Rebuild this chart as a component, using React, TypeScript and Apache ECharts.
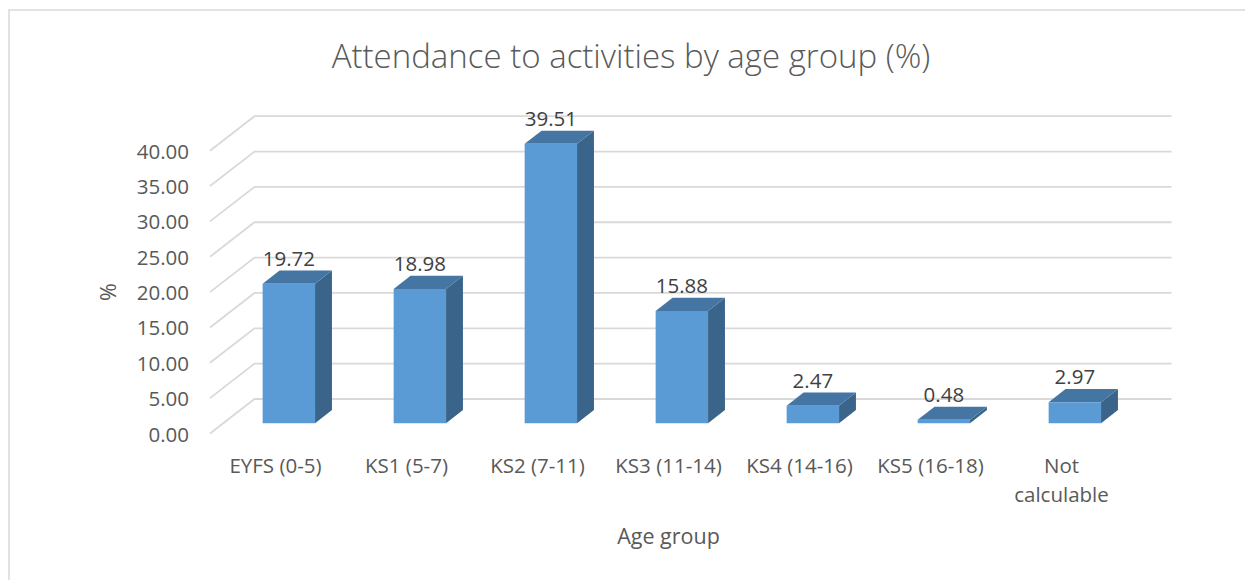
import React, { useEffect, useRef } from "react";
import * as echarts from "echarts";

const categories = [
  "EYFS (0-5)",
  "KS1 (5-7)",
  "KS2 (7-11)",
  "KS3 (11-14)",
  "KS4 (14-16)",
  "KS5 (16-18)",
  "Not\ncalculable",
];
const values = [19.72, 18.98, 39.51, 15.88, 2.47, 0.48, 2.97];
const yTicks = [0, 5, 10, 15, 20, 25, 30, 35, 40];
const titleText = "Attendance to activities by age group (%)";
const xName = "Age group";
const yName = "%";

const DEPTH_X = 44.5;
const DEPTH_Y = -34.5;
const BAR_FRONT = 0.3;
const BAR_BACK = 0.68;
const FONT = "'Open Sans', 'Noto Sans', sans-serif";
const TEXT = "#595959";
const GRID = "#D9D9D9";
const C_FRONT = "#5B9BD5";
const C_TOP = "#4575A2";
const C_SIDE = "#3A6489";

export default function App() {
  const ref = useRef<HTMLDivElement>(null);
  useEffect(() => {
    if (!ref.current) return;
    const chart = echarts.init(ref.current, undefined, { renderer: "svg" });
    const option: any = {
      animation: false,
      backgroundColor: "#ffffff",
      textStyle: { fontFamily: FONT },
      grid: { left: 210, right: 118, top: 150.7, bottom: 146.5 },
      xAxis: {
        type: "category",
        data: categories,
        boundaryGap: true,
        axisLine: { show: false },
        axisTick: { show: false },
        splitLine: { show: false },
        axisLabel: {
          color: TEXT,
          fontSize: 20.5,
          fontFamily: FONT,
          margin: 17,
          lineHeight: 29,
          interval: 0,
        },
        name: xName,
        nameLocation: "middle",
        nameGap: 91,
        nameTextStyle: { color: TEXT, fontSize: 21.5, fontFamily: FONT },
      },
      yAxis: {
        type: "value",
        min: 0,
        max: 40,
        interval: 5,
        axisLine: { show: false },
        axisTick: { show: false },
        splitLine: { show: false },
        axisLabel: {
          color: TEXT,
          fontSize: 20.5,
          fontFamily: FONT,
          margin: 21,
          formatter: (v: number) => v.toFixed(2),
        },
        name: yName,
        nameLocation: "middle",
        nameGap: 92,
        nameRotate: 90,
        nameTextStyle: { color: TEXT, fontSize: 21.5, fontFamily: FONT },
      },
      graphic: [
        {
          type: "rect",
          shape: { x: 9, y: 10, width: 1400, height: 800 },
          style: { fill: "none", stroke: GRID, lineWidth: 1.5 },
          silent: true,
          z: -10,
        },
        {
          type: "text",
          x: 631,
          y: 55,
          style: {
            text: titleText,
            fill: TEXT,
            font: `300 33px ${FONT}`,
            align: "center",
            verticalAlign: "middle",
          },
        },
      ],
      series: [
        {
          type: "custom",
          name: "grid",
          z: 1,
          silent: true,
          data: yTicks.map((t) => [0, t]),
          encode: { x: 0, y: 1 },
          renderItem: (params: any, api: any) => {
            const t = api.value(1);
            const p = api.coord([0, t]);
            const band = api.size([1, 0])[0];
            const pr = api.coord([categories.length - 1, t]);
            const xL = p[0] - band / 2;
            const xR = pr[0] + band / 2;
            const y = p[1];
            return {
              type: "polyline",
              shape: {
                points: [
                  [xL, y],
                  [xL + DEPTH_X, y + DEPTH_Y],
                  [xR + DEPTH_X, y + DEPTH_Y],
                ],
              },
              style: { stroke: GRID, lineWidth: 1.8, fill: "none" },
            };
          },
        },
        {
          type: "custom",
          name: "Attendance",
          z: 5,
          data: values.map((v, i) => [i, v]),
          encode: { x: 0, y: 1 },
          renderItem: (params: any, api: any) => {
            const idx = api.value(0);
            const v = api.value(1);
            const base = api.coord([idx, 0]);
            const top = api.coord([idx, v]);
            const band = api.size([1, 0])[0];
            const w = band * 0.4;
            const fx = DEPTH_X * BAR_FRONT;
            const fy = DEPTH_Y * BAR_FRONT;
            const dx = DEPTH_X * (BAR_BACK - BAR_FRONT);
            const dy = DEPTH_Y * (BAR_BACK - BAR_FRONT);
            const x0 = base[0] - w / 2 + fx;
            const x1 = base[0] + w / 2 + fx;
            const yb = base[1] + fy;
            const yt = top[1] + fy;
            return {
              type: "group",
              children: [
                {
                  type: "polygon",
                  shape: {
                    points: [
                      [x1, yb],
                      [x1 + dx, yb + dy],
                      [x1 + dx, yt + dy],
                      [x1, yt],
                    ],
                  },
                  style: { fill: C_SIDE },
                },
                {
                  type: "polygon",
                  shape: {
                    points: [
                      [x0, yt],
                      [x1, yt],
                      [x1 + dx, yt + dy],
                      [x0 + dx, yt + dy],
                    ],
                  },
                  style: { fill: C_TOP },
                },
                {
                  type: "rect",
                  shape: { x: x0, y: yt, width: w, height: yb - yt },
                  style: { fill: C_FRONT },
                },
                {
                  type: "text",
                  x: (x0 + x1) / 2,
                  y: yt + dy - 13,
                  style: {
                    text: v.toFixed(2),
                    fill: "#404040",
                    font: `20.5px ${FONT}`,
                    align: "center",
                    verticalAlign: "middle",
                  },
                },
              ],
            };
          },
        },
      ],
    };
    chart.setOption(option);
    return () => chart.dispose();
  }, []);
  return (
    <div
      ref={ref}
      style={{ position: "fixed", left: 0, top: 0, width: 1245, height: 580 }}
    />
  );
}
